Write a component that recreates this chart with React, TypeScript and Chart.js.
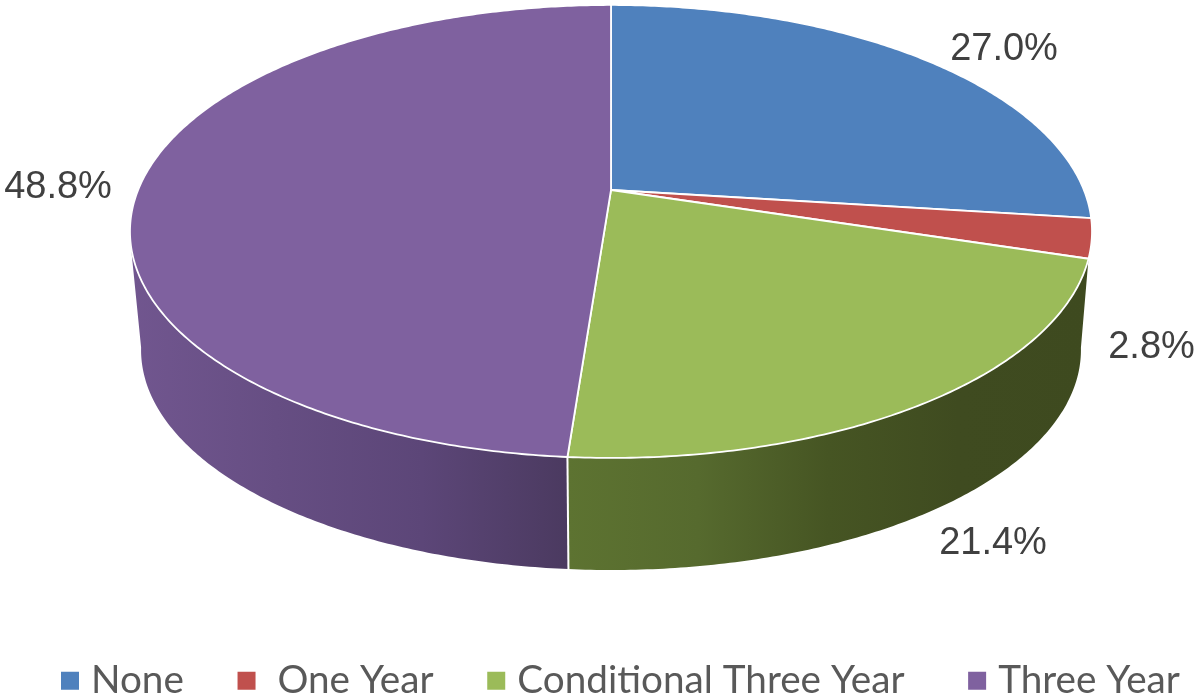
import React, { useEffect, useRef } from "react";
import { Chart, registerables } from "chart.js";

Chart.register(...registerables);

const categories = ["None", " One Year", "Conditional Three Year ", "Three Year"];
const shares = [27.0, 2.8, 21.4, 48.8];
const topColors = ["#4f81bd", "#c0504d", "#9bbb59", "#7f619f"];
// Colours of the visible outer wall, left to right, per slice (null: wall not visible)
const wallColors: (string[] | null)[] = [
  null,
  null,
  ["#5d7331", "#566a2e", "#465523", "#3f4b20", "#3e4a1f"],
  ["#71568f", "#664e83", "#5c4678", "#4b3a60"],
];
// Where each value label is centred
const labelAnchors = [
  [1004, 50],
  [1151.5, 348],
  [993, 544],
  [58, 188],
];

// Projective "tilted disc" used to view the pie
const CX = 611;
const TOP = { y0: 190, a: 472.9, b: 218.9 };
const FLOOR = { y0: 309.8, a: 462, b: 212.6 };
const K = -0.183;
// Visible wall range in radians, clockwise from 12 o'clock
const WALL_TOP_FROM = 1.873;
const WALL_TOP_TO = 4.48;
const WALL_FLOOR_FROM = 1.745;
const WALL_FLOOR_TO = 4.54;
const STEP = 0.01;

type Disc = { y0: number; a: number; b: number };
const project = (d: Disc, t: number): [number, number] => {
  const u = Math.sin(t);
  const v = -Math.cos(t);
  const w = 1 + K * v;
  return [CX + (d.a * u) / w, d.y0 + (d.b * v) / w];
};

const traceArc = (ctx: CanvasRenderingContext2D, d: Disc, from: number, to: number) => {
  const n = Math.max(2, Math.ceil(Math.abs(to - from) / STEP));
  for (let i = 0; i <= n; i++) {
    const [x, y] = project(d, from + ((to - from) * i) / n);
    ctx.lineTo(x, y);
  }
};

const tiltedPie = {
  id: "tiltedPie",
  afterLayout(chart: any) {
    const legend = chart.legend;
    legend.left = 7.35;
    legend.right = 4000;
    legend.top = 600.5;
    legend.bottom = 699;
  },
  beforeDatasetDraw(chart: any, args: any) {
    const ctx: CanvasRenderingContext2D = chart.ctx;
    const arcs = args.meta.data;
    const spans = arcs.map((arc: any) => [arc.startAngle + Math.PI / 2, arc.endAngle + Math.PI / 2]);
    ctx.save();
    // walls
    spans.forEach(([s, e]: number[], i: number) => {
      const stops = wallColors[i];
      if (!stops) return;
      const from = Math.max(s, WALL_TOP_FROM);
      const to = Math.min(e, WALL_TOP_TO);
      const floorFrom = s <= WALL_TOP_FROM ? WALL_FLOOR_FROM : s;
      const floorTo = e >= WALL_TOP_TO ? WALL_FLOOR_TO : e;
      ctx.beginPath();
      const start = project(TOP, from);
      ctx.moveTo(start[0], start[1]);
      traceArc(ctx, TOP, from, to);
      traceArc(ctx, FLOOR, floorTo, floorFrom);
      ctx.closePath();
      const xs = [project(TOP, from)[0], project(TOP, to)[0]];
      const g = ctx.createLinearGradient(Math.min(...xs), 0, Math.max(...xs), 0);
      stops.forEach((c, k) => g.addColorStop(k / (stops.length - 1), c));
      ctx.fillStyle = g;
      ctx.fill();
    });
    // seam between neighbouring visible walls
    spans.forEach(([s]: number[]) => {
      if (s <= WALL_TOP_FROM || s >= WALL_TOP_TO) return;
      const a = project(TOP, s);
      const b = project(FLOOR, s);
      ctx.beginPath();
      ctx.moveTo(a[0], a[1]);
      ctx.lineTo(b[0], b[1]);
      ctx.strokeStyle = "#ffffff";
      ctx.lineWidth = 2;
      ctx.stroke();
    });
    // top face
    spans.forEach(([s, e]: number[], i: number) => {
      ctx.beginPath();
      ctx.moveTo(CX, TOP.y0);
      traceArc(ctx, TOP, s, e);
      ctx.closePath();
      ctx.fillStyle = arcs[i].options.backgroundColor;
      ctx.fill();
      ctx.strokeStyle = "#ffffff";
      ctx.lineWidth = 1.8;
      ctx.lineJoin = "round";
      ctx.stroke();
    });
    // value labels
    ctx.fillStyle = "#404040";
    ctx.font = '38px "Liberation Sans"';
    ctx.textAlign = "center";
    ctx.textBaseline = "middle";
    chart.data.datasets[0].data.forEach((v: number, i: number) => {
      ctx.fillText(`${v.toFixed(1)}%`, labelAnchors[i][0], labelAnchors[i][1]);
    });
    ctx.restore();
    return false;
  },
};

export default function App() {
  const ref = useRef<HTMLCanvasElement>(null);
  useEffect(() => {
    document.body.style.margin = "0";
    const chart = new Chart(ref.current as HTMLCanvasElement, {
      type: "pie",
      data: {
        labels: categories,
        datasets: [{ data: shares, backgroundColor: topColors, borderColor: "#ffffff", borderWidth: 2 }],
      },
      options: {
        responsive: false,
        animation: false,
        plugins: {
          tooltip: { enabled: false },
          legend: {
            display: true,
            position: "bottom",
            align: "start",
            labels: {
              color: "#595959",
              font: { family: "Lato", size: 38.7 },
              boxWidth: 3.3,
              boxHeight: 3.3,
              padding: 61,
              generateLabels: (c: any) =>
                (Chart as any).overrides.pie.plugins.legend.labels.generateLabels(c).map((item: any) => ({
                  ...item,
                  strokeStyle: item.fillStyle,
                  lineWidth: 14.7,
                  lineJoin: "miter",
                })),
            },
          },
        },
      },
      plugins: [tiltedPie],
    } as any);
    return () => chart.destroy();
  }, []);
  return (
    <div style={{ width: 1198, height: 699, overflow: "hidden", background: "#ffffff" }}>
      <canvas ref={ref} width={1198} height={699} style={{ display: "block" }} />
    </div>
  );
}
